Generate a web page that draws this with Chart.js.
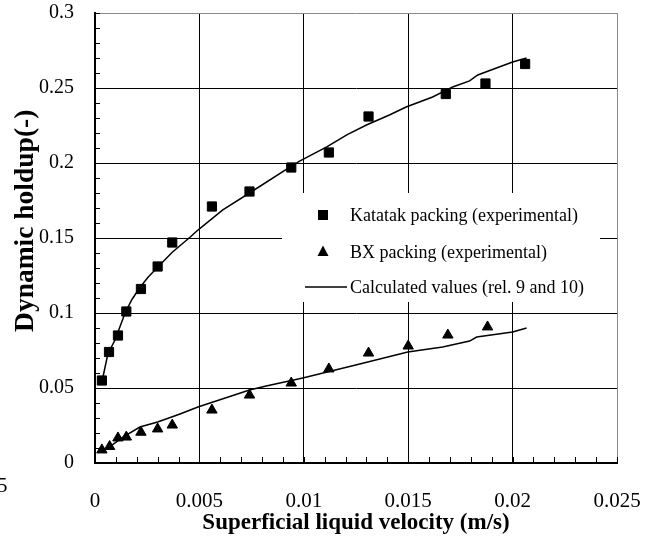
<!DOCTYPE html>
<html>
<head>
<meta charset="utf-8">
<script src="https://cdn.jsdelivr.net/npm/chart.js@4/dist/chart.umd.min.js"></script>
<style>
  html,body{margin:0;padding:0;background:#fff;}
  #wrap{width:650px;height:541px;}
</style>
</head>
<body>
<div id="wrap"><canvas id="holdup"></canvas></div>
<script>
/* -------------------- Data -------------------- */
const katatakX = [0.00033,0.00067,0.0011,0.0015,0.0022,0.003,0.0037,0.0056,0.0074,0.0094,0.0112,0.0131,0.0168,0.0187,0.0206];
const katatakY = [0.055,0.074,0.085,0.101,0.116,0.131,0.147,0.171,0.181,0.197,0.207,0.231,0.246,0.253,0.266];

const bxX = [0.00033,0.0007,0.0011,0.0015,0.0022,0.003,0.0037,0.0056,0.0074,0.0094,0.0112,0.0131,0.015,0.0169,0.0188];
const bxY = [0.0087,0.011,0.0167,0.0173,0.0205,0.0227,0.0253,0.0353,0.0453,0.0533,0.0627,0.0733,0.078,0.0853,0.0907];

// calculated curves (rel. 9 and 10)
const calcKatatakX = [0.0003,0.00062,0.00096,0.0012,0.00144,0.00177,0.00215,0.00255,0.003,0.0037,0.00455,0.00493,0.00612,0.0074,0.00933,0.0098,0.0111,0.01206,0.013,0.0141,0.0149,0.01617,0.01713,0.01794,0.01833,0.02,0.02067];
const calcKatatakY = [0.052,0.073,0.082,0.091,0.1,0.109,0.117,0.124,0.1305,0.1405,0.1505,0.1553,0.1687,0.18,0.1973,0.2013,0.2107,0.2187,0.2253,0.232,0.2373,0.244,0.2507,0.2547,0.2587,0.2673,0.27];

const calcBxX = [0.0003,0.0007,0.00134,0.00215,0.003,0.00407,0.00493,0.0074,0.0082,0.00995,0.01268,0.01498,0.01665,0.01794,0.01828,0.02,0.02067];
const calcBxY = [0.008,0.0107,0.0173,0.024,0.0273,0.0327,0.0373,0.0487,0.0513,0.0567,0.066,0.074,0.0773,0.0813,0.084,0.0873,0.09];

const xTickLabels = ['0','0.005','0.01','0.015','0.02','0.025'];
const yTickLabels = ['0','0.05','0.1','0.15','0.2','0.25','0.3'];

const legendLabels = ['Katatak packing (experimental)','BX packing (experimental)','Calculated values (rel. 9 and 10)'];

/* -------------------- Helpers -------------------- */
const SERIF = "'Liberation Serif','Times New Roman',serif";
function pts(xs,ys){ return xs.map((x,i)=>({x, y:ys[i]})); }

/* -------------------- Plugins -------------------- */
// small inward ticks on the two axes
const minorTicks = {
  id:'minorTicks',
  afterDraw(chart){
    const {ctx, chartArea:a, scales:{x,y}} = chart;
    ctx.save();
    ctx.strokeStyle='#000'; ctx.lineWidth=1;
    ctx.beginPath();
    for(let i=0;i<=25;i++){
      const px=Math.round(x.getPixelForValue(i*0.001))+0.5;
      ctx.moveTo(px,a.bottom); ctx.lineTo(px,a.bottom-6);
    }
    for(let i=0;i<=30;i++){
      const py=Math.round(y.getPixelForValue(i*0.01))+0.5;
      ctx.moveTo(a.left,py); ctx.lineTo(a.left+5,py);
    }
    ctx.stroke();
    // clipped leftover label at the far left
    ctx.fillStyle='#000';
    ctx.font=`21px ${SERIF}`;
    ctx.textBaseline='middle'; ctx.textAlign='left';
    ctx.fillText('5',-3,486);
    ctx.restore();
  }
};

// legend box sitting over the grid
const boxLegend = {
  id:'boxLegend',
  beforeDatasetsDraw(chart){
    const {ctx, chartArea:a} = chart;
    const L=a.left+187, T=a.top+180, W=318, H=109;
    ctx.save();
    ctx.fillStyle='#fff';
    ctx.fillRect(L,T,W,H);
    ctx.fillStyle='#000'; ctx.strokeStyle='#000';
    const mx=L+41, tx=L+68;
    const rows=[T+22,T+59,T+94];
    // square
    ctx.fillRect(mx-5,rows[0]-5,10,10);
    // triangle
    ctx.beginPath();
    ctx.moveTo(mx,rows[1]-6.5); ctx.lineTo(mx+5.5,rows[1]+4); ctx.lineTo(mx-5.5,rows[1]+4);
    ctx.closePath(); ctx.fill();
    // line
    ctx.lineWidth=1.5;
    ctx.beginPath(); ctx.moveTo(L+23,rows[2]); ctx.lineTo(L+65,rows[2]); ctx.stroke();
    ctx.font=`18px ${SERIF}`;
    ctx.textBaseline='middle'; ctx.textAlign='left';
    legendLabels.forEach((t,i)=>ctx.fillText(t,tx,rows[i]+1));
    ctx.restore();
  }
};

/* -------------------- Chart -------------------- */
const edgeGrid = (max)=> (c)=> (Math.abs(c.tick.value-max)<1e-9 ? '#8a8a8a' : '#000');

new Chart(document.getElementById('holdup'),{
  type:'scatter',
  data:{
    datasets:[
      {label:legendLabels[0], data:pts(katatakX,katatakY), pointStyle:'rect', pointRadius:6.5, borderWidth:1,
        backgroundColor:'#000', borderColor:'#000', order:1},
      {label:legendLabels[1], data:pts(bxX,bxY), pointStyle:'triangle', pointRadius:6, borderWidth:1,
        backgroundColor:'#000', borderColor:'#000', order:1},
      {label:legendLabels[2], data:pts(calcKatatakX,calcKatatakY), showLine:true, pointRadius:0,
        borderColor:'#000', borderWidth:1.5, tension:0, order:2},
      {label:'', data:pts(calcBxX,calcBxY), showLine:true, pointRadius:0,
        borderColor:'#000', borderWidth:1.5, tension:0, order:2}
    ]
  },
  options:{
    responsive:true, maintainAspectRatio:false, animation:false,
    layout:{padding:{top:13,right:33,left:0,bottom:0}},
    plugins:{legend:{display:false}, tooltip:{enabled:false}},
    scales:{
      x:{
        type:'linear', min:0, max:0.025,
        afterFit(s){ s.height=78; s.paddingLeft=0; s.paddingRight=0; },
        ticks:{stepSize:0.005, color:'#000', padding:26, maxRotation:0,
          font:{family:SERIF,size:21}, callback:(v,i)=>xTickLabels[i]},
        grid:{color:edgeGrid(0.025), lineWidth:1, drawTicks:false},
        border:{color:'#000', width:2},
        title:{display:true, text:'Superficial liquid velocity (m/s)', color:'#000',
          font:{family:SERIF,size:23,weight:'bold'}, padding:{top:0,bottom:4}}
      },
      y:{
        min:0, max:0.3,
        afterFit(s){ s.width=95; s.paddingTop=0; s.paddingBottom=0; },
        ticks:{stepSize:0.05, color:'#000', padding:21,
          font:{family:SERIF,size:20}, callback:(v,i)=>yTickLabels[i]},
        grid:{color:edgeGrid(0.3), lineWidth:1, drawTicks:false},
        border:{color:'#000', width:2},
        // leading spaces nudge the rotated title a little above centre
        title:{display:true, text:'     Dynamic holdup(-)', color:'#000',
          font:{family:SERIF,size:27.5,weight:'bold'}, padding:{top:9,bottom:0}}
      }
    }
  },
  plugins:[minorTicks, boxLegend]
});
</script>
</body>
</html>
